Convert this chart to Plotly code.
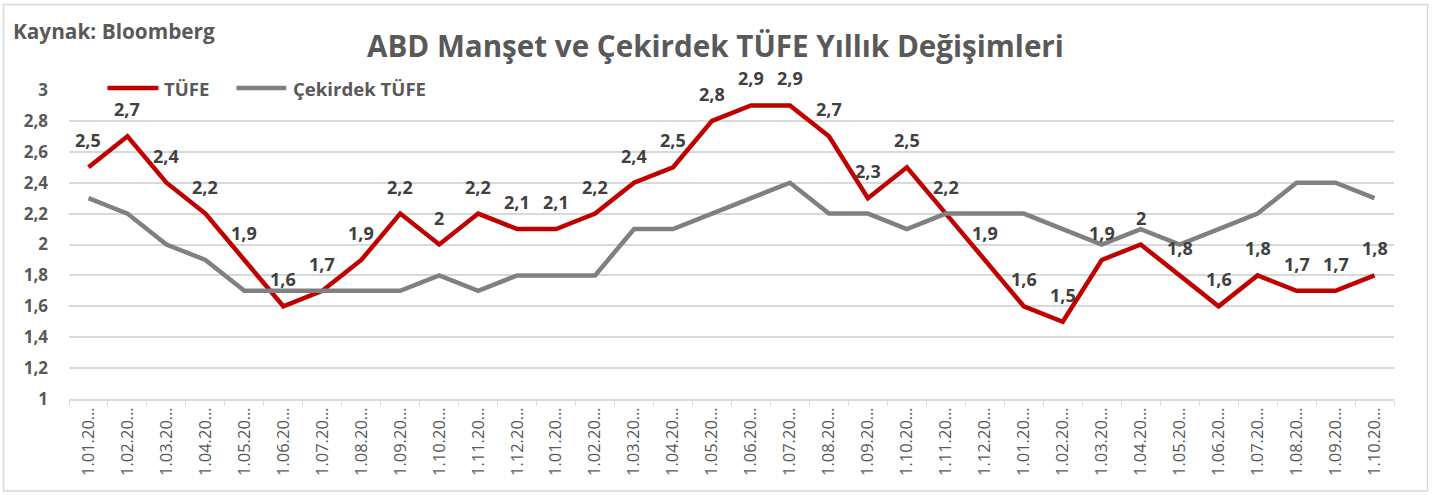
import plotly.graph_objects as go

dates = (
    [f"1.{m:02d}.2017" for m in range(1, 13)]
    + [f"1.{m:02d}.2018" for m in range(1, 13)]
    + [f"1.{m:02d}.2019" for m in range(1, 11)]
)
tick_labels = [d[:7] + "…" for d in dates]

tufe = [2.5, 2.7, 2.4, 2.2, 1.9, 1.6, 1.7, 1.9, 2.2, 2.0, 2.2, 2.1,
        2.1, 2.2, 2.4, 2.5, 2.8, 2.9, 2.9, 2.7, 2.3, 2.5, 2.2, 1.9,
        1.6, 1.5, 1.9, 2.0, 1.8, 1.6, 1.8, 1.7, 1.7, 1.8]
cekirdek = [2.3, 2.2, 2.0, 1.9, 1.7, 1.7, 1.7, 1.7, 1.7, 1.8, 1.7, 1.8,
            1.8, 1.8, 2.1, 2.1, 2.2, 2.3, 2.4, 2.2, 2.2, 2.1, 2.2, 2.2,
            2.2, 2.1, 2.0, 2.1, 2.0, 2.1, 2.2, 2.4, 2.4, 2.3]

FONT = "Open Sans"
GREY_TXT = "#595959"
RED = "#c00000"
GREY_LINE = "#808080"

fig = go.Figure()
fig.add_trace(go.Scatter(x=dates, y=tufe, mode="lines", name="TÜFE",
                         line=dict(color=RED, width=4.5)))
fig.add_trace(go.Scatter(x=dates, y=cekirdek, mode="lines", name="Çekirdek TÜFE",
                         line=dict(color=GREY_LINE, width=4.5)))

for d, v in zip(dates, tufe):
    fig.add_annotation(x=d, y=v, text=f"{v:g}".replace(".", ","), showarrow=False,
                       yshift=27, font=dict(family=FONT, size=18, color="#404040", weight="bold"))

W, H = 1432, 495
L, R, T, B = 68.5, 37.5, 90, 96
pw, ph = W - L - R, H - T - B


def px(x):
    return (x - L) / pw


def py(y):
    return (H - B - y) / ph


fig.add_shape(type="rect", xref="paper", yref="paper",
              x0=px(3), x1=px(1428), y0=py(491), y1=py(4.5),
              line=dict(color="#d9d9d9", width=1.5), layer="below")

fig.add_annotation(xref="paper", yref="paper", x=px(10), y=py(31), xanchor="left", yanchor="middle",
                   text="Kaynak: Bloomberg", showarrow=False,
                   font=dict(family=FONT, size=20.8, color=GREY_TXT, weight="bold"))
fig.add_annotation(xref="paper", yref="paper", x=px(715), y=py(45), xanchor="center", yanchor="middle",
                   text="ABD Manşet ve Çekirdek TÜFE Yıllık Değişimleri", showarrow=False,
                   font=dict(family=FONT, size=29.6, color=GREY_TXT, weight="bold"))

# legend (drawn manually to match the long legend keys)
legend_items = [("TÜFE", RED, 107, 158, 162), ("Çekirdek TÜFE", GREY_LINE, 236, 286, 291)]
for name, col, x0, x1, xt in legend_items:
    fig.add_shape(type="line", xref="paper", yref="paper", x0=px(x0), x1=px(x1), y0=py(88), y1=py(88),
                  line=dict(color=col, width=4.5))
    fig.add_annotation(xref="paper", yref="paper", x=px(xt), y=py(88), xanchor="left", yanchor="middle",
                       text=name, showarrow=False,
                       font=dict(family=FONT, size=18.6, color=GREY_TXT, weight="bold"))

fig.update_layout(
    width=W, height=H,
    margin=dict(l=L, r=R, t=T, b=B, autoexpand=False),
    paper_bgcolor="white", plot_bgcolor="white",
    separators=",.",
    showlegend=False,
    xaxis=dict(type="category", tickvals=dates, ticktext=tick_labels, tickangle=-90,
               showgrid=False, showline=True, linecolor="#d9d9d9", linewidth=1.5,
               ticks="outside", tickson="boundaries", ticklen=5, tickcolor="#d9d9d9",
               tickfont=dict(family=FONT, size=16.5, color=GREY_TXT), range=[-0.5, 33.5]),
    yaxis=dict(range=[1, 3], dtick=0.2, tick0=1, showgrid=True, gridcolor="#d9d9d9", gridwidth=1.5,
               zeroline=False, showline=False, ticks="", ticklabelstandoff=20,
               tickfont=dict(family=FONT, size=17, color=GREY_TXT, weight="bold")),
)

fig.write_html("out.html", config={"displayModeBar": False},
               post_script="document.body.style.margin='0px';")
